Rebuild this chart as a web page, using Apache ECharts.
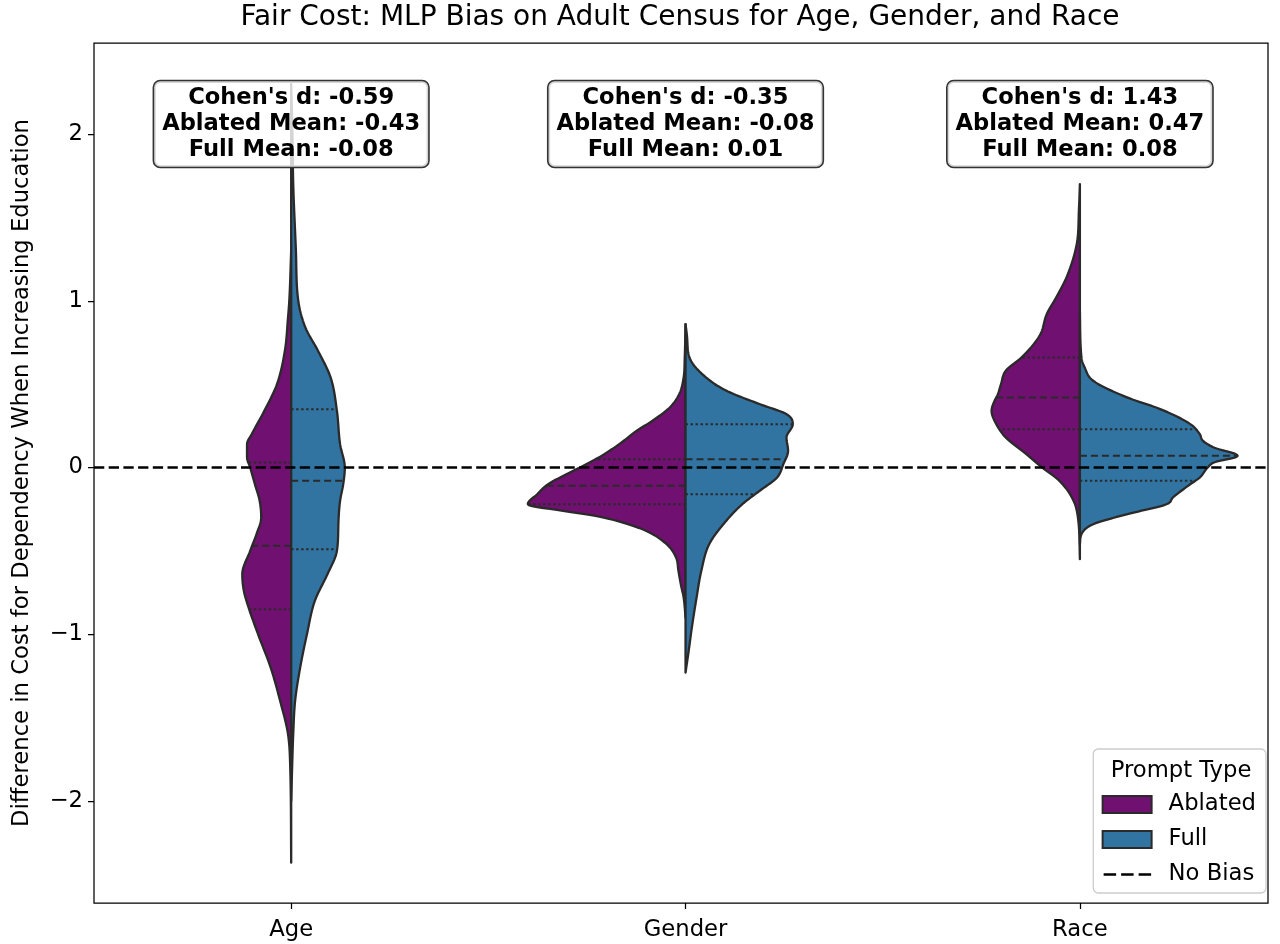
<!DOCTYPE html>
<html>
<head>
<meta charset="utf-8">
<script src="https://cdn.jsdelivr.net/npm/echarts@6/dist/echarts.min.js"></script>
<style>
html,body{margin:0;padding:0;background:#fff;}
#chart{width:1280px;height:944px;}
</style>
</head>
<body>
<div id="chart"></div>
<script>
// ---------------- data ----------------
const categories = ['Age', 'Gender', 'Race'];
const categoryPositions = [0, 1, 2];
const yTicks = [-2, -1, 0, 1, 2];

// violin half profiles: [value, relative density (1 = widest half)]
const ageAblated = [[1.30,0],[1.00,0.012],[0.90,0.02],[0.70,0.04],[0.50,0.09],[0.34,0.17],[0.20,0.25],[0.14,0.28],[0.06,0.28],[0.00,0.26],[-0.10,0.23],[-0.20,0.20],[-0.30,0.19],[-0.40,0.22],[-0.50,0.26],[-0.64,0.31],[-0.74,0.30],[-0.84,0.27],[-1.00,0.21],[-1.20,0.13],[-1.40,0.07],[-1.60,0.02],[-1.80,0.006],[-2.37,0]];
const ageFull = [[2.30,0],[2.00,0.008],[1.70,0.013],[1.30,0.03],[1.00,0.045],[0.84,0.09],[0.70,0.17],[0.54,0.25],[0.34,0.29],[0.14,0.31],[0.00,0.34],[-0.10,0.33],[-0.20,0.31],[-0.32,0.30],[-0.50,0.29],[-0.64,0.23],[-0.80,0.15],[-1.00,0.10],[-1.20,0.057],[-1.40,0.025],[-1.60,0.013],[-1.80,0.006],[-2.00,0]];
const genderAblated = [[0.86,0],[0.66,0.005],[0.54,0.012],[0.44,0.04],[0.36,0.10],[0.28,0.21],[0.22,0.31],[0.14,0.42],[0.06,0.55],[0.00,0.67],[-0.10,0.87],[-0.16,0.94],[-0.22,1.0],[-0.26,0.78],[-0.29,0.57],[-0.33,0.40],[-0.38,0.25],[-0.46,0.12],[-0.54,0.06],[-0.62,0.045],[-0.70,0.03],[-0.78,0.012],[-0.90,0]];
const genderFull = [[0.86,0],[0.78,0.01],[0.66,0.025],[0.54,0.13],[0.46,0.26],[0.38,0.47],[0.32,0.64],[0.26,0.68],[0.18,0.64],[0.10,0.65],[0.02,0.62],[-0.06,0.58],[-0.14,0.47],[-0.22,0.36],[-0.34,0.24],[-0.46,0.15],[-0.62,0.10],[-0.78,0.07],[-0.96,0.04],[-1.10,0.02],[-1.23,0]];
const raceAblated = [[1.70,0],[1.55,0.006],[1.34,0.02],[1.14,0.085],[1.02,0.15],[0.92,0.21],[0.80,0.25],[0.72,0.31],[0.66,0.37],[0.58,0.47],[0.50,0.50],[0.44,0.52],[0.38,0.55],[0.34,0.56],[0.26,0.53],[0.18,0.47],[0.08,0.34],[0.00,0.24],[-0.08,0.13],[-0.20,0.04],[-0.32,0.01],[-0.55,0]];
const raceFull = [[0.94,0],[0.66,0.01],[0.60,0.03],[0.52,0.085],[0.42,0.30],[0.35,0.51],[0.26,0.70],[0.20,0.76],[0.16,0.78],[0.12,0.85],[0.07,1.0],[0.03,0.85],[0.00,0.81],[-0.06,0.76],[-0.10,0.70],[-0.18,0.59],[-0.22,0.55],[-0.28,0.30],[-0.34,0.085],[-0.40,0.01],[-0.46,0]];

// quartiles [q1, median, q3]
const ablatedQuartiles = [[-0.85,-0.47,0.03],[-0.22,-0.11,0.05],[0.23,0.42,0.66]];
const fullQuartiles = [[-0.49,-0.08,0.35],[-0.16,0.05,0.26],[-0.08,0.07,0.23]];

// annotation statistics
const cohensD = [-0.59, -0.35, 1.43];
const ablatedMeans = [-0.43, -0.08, 0.47];
const fullMeans = [-0.08, 0.01, 0.08];
const noBiasLevel = 0;

// ---------------- styling ----------------
const FONT = '"DejaVu Sans", "Liberation Sans", sans-serif';
const FS = 22.7;
const colors = { Ablated: '#701070', Full: '#3274a1' };
const edge = '#2a2a2a';
const Y_MIN = -2.612, Y_MAX = 2.546;
const X_MIN = -0.5, X_MAX = 2.477;
const ANNOT_Y = 2.06;

const ablatedShapes = [ageAblated, genderAblated, raceAblated];
const fullShapes = [ageFull, genderFull, raceFull];

// monotone cubic interpolant used only to draw a smooth outline through the read points
function monotone(profile) {
  const pts = profile.slice().sort((a, b) => a[0] - b[0]);
  const xs = pts.map(p => p[0]), ys = pts.map(p => p[1]);
  const n = xs.length;
  const d = [], m = new Array(n);
  for (let k = 0; k < n - 1; k++) d.push((ys[k + 1] - ys[k]) / (xs[k + 1] - xs[k]));
  m[0] = d[0]; m[n - 1] = d[n - 2];
  for (let k = 1; k < n - 1; k++) m[k] = (d[k - 1] * d[k] <= 0) ? 0 : (d[k - 1] + d[k]) / 2;
  for (let k = 0; k < n - 1; k++) {
    if (d[k] === 0) { m[k] = 0; m[k + 1] = 0; continue; }
    const a = m[k] / d[k], b = m[k + 1] / d[k], s = a * a + b * b;
    if (s > 9) { const t = 3 / Math.sqrt(s); m[k] = t * a * d[k]; m[k + 1] = t * b * d[k]; }
  }
  return function (x) {
    if (x <= xs[0]) return ys[0];
    if (x >= xs[n - 1]) return ys[n - 1];
    let k = 0;
    while (k < n - 2 && x > xs[k + 1]) k++;
    const h = xs[k + 1] - xs[k], t = (x - xs[k]) / h;
    const t2 = t * t, t3 = t2 * t;
    return (2 * t3 - 3 * t2 + 1) * ys[k] + (t3 - 2 * t2 + t) * h * m[k] + (-2 * t3 + 3 * t2) * ys[k + 1] + (t3 - t2) * h * m[k + 1];
  };
}

function violinRenderer(shapes, quarts, color, side) {
  const fns = shapes.map(monotone);
  return function (params, api) {
    const i = params.dataIndex;
    const pos = categoryPositions[i];
    const prof = shapes[i];
    const f = fns[i];
    const cx = api.coord([pos, 0])[0];
    const half = api.size([1, 0])[0] * 0.4;
    const vTop = prof[0][0], vBot = prof[prof.length - 1][0];
    const N = 300;
    const pts = [];
    for (let k = 0; k <= N; k++) {
      const v = vTop + (vBot - vTop) * k / N;
      const w = Math.max(0, f(v));
      pts.push([cx + side * w * half, api.coord([pos, v])[1]]);
    }
    const children = [{
      type: 'polygon',
      shape: { points: pts },
      style: { fill: color, stroke: edge, lineWidth: 2.3, lineJoin: 'round' }
    }];
    quarts[i].forEach((q, j) => {
      const y = api.coord([pos, q])[1];
      const w = Math.max(0, f(q)) * half;
      children.push({
        type: 'line',
        shape: { x1: cx, y1: y, x2: cx + side * w, y2: y },
        style: { stroke: edge, lineWidth: 2, lineDash: j === 1 ? [7, 4] : [2.4, 2.6] }
      });
    });
    return { type: 'group', children: children };
  };
}

function annotRenderer(params, api) {
  const i = params.dataIndex;
  const p = api.coord([categoryPositions[i], ANNOT_Y]);
  const txt = "Cohen's d: " + cohensD[i].toFixed(2) + "\nAblated Mean: " + ablatedMeans[i].toFixed(2) + "\nFull Mean: " + fullMeans[i].toFixed(2);
  return {
    type: 'text',
    x: p[0], y: p[1],
    style: {
      text: txt,
      fill: '#000',
      font: 'bold 22.6px ' + FONT,
      align: 'center',
      verticalAlign: 'middle',
      lineHeight: 25.8,
      backgroundColor: 'rgba(255,255,255,0.8)',
      borderColor: '#333333',
      borderWidth: 1.6,
      borderRadius: 6,
      padding: [5, 8, 3, 8]
    }
  };
}

const chart = echarts.init(document.getElementById('chart'), null, { renderer: 'canvas' });
const option = {
  animation: false,
  backgroundColor: '#fff',
  grid: { left: 94, right: 12, top: 43, bottom: 41, show: true, borderColor: '#000', borderWidth: 1.25, backgroundColor: 'transparent' },
  xAxis: {
    type: 'value',
    min: X_MIN, max: X_MAX,
    axisLine: { show: false, onZero: false },
    axisTick: { show: true, length: 6, lineStyle: { color: '#000', width: 1.25 }, customValues: categoryPositions },
    axisLabel: {
      color: '#000', fontFamily: FONT, fontSize: FS, margin: 16,
      customValues: categoryPositions,
      formatter: v => categories[categoryPositions.indexOf(Math.round(v))] || ''
    },
    splitLine: { show: false }
  },
  yAxis: {
    type: 'value',
    min: Y_MIN, max: Y_MAX,
    axisLine: { show: false, onZero: false },
    axisTick: { show: true, length: 6, lineStyle: { color: '#000', width: 1.25 }, customValues: yTicks },
    axisLabel: {
      color: '#000', fontFamily: FONT, fontSize: FS, margin: 11,
      customValues: yTicks,
      formatter: v => (v < 0 ? '\u2212' + Math.abs(v) : String(v))
    },
    splitLine: { show: false }
  },
  legend: {
    orient: 'vertical',
    right: 14, bottom: 51,
    padding: [44, 10, 7, 8],
    itemWidth: 49, itemHeight: 17, itemGap: 12,
    align: 'left',
    backgroundColor: 'rgba(255,255,255,0.8)',
    borderColor: '#cccccc', borderWidth: 1.3, borderRadius: 5,
    textStyle: { fontFamily: FONT, fontSize: FS, color: '#000', padding: [0, 0, 0, 12] },
    data: [
      { name: 'Ablated', icon: 'rect', itemStyle: { color: colors.Ablated, borderColor: edge, borderWidth: 2 } },
      { name: 'Full', icon: 'rect', itemStyle: { color: colors.Full, borderColor: edge, borderWidth: 2 } },
      { name: 'No Bias', itemStyle: { color: 'rgba(0,0,0,0)', borderWidth: 0, opacity: 0 }, lineStyle: { color: '#000', width: 2.7, type: [12.5, 5], dashOffset: -1 } }
    ]
  },
  graphic: [
    {
      type: 'text', x: 680, y: 18, z: 100,
      style: { text: 'Fair Cost: MLP Bias on Adult Census for Age, Gender, and Race', font: '28px ' + FONT, fill: '#000', align: 'center', verticalAlign: 'middle' }
    },
    {
      type: 'text', x: 22, y: 473, rotation: Math.PI / 2, z: 100,
      style: { text: 'Difference in Cost for Dependency When Increasing Education', font: FS + 'px ' + FONT, fill: '#000', align: 'center', verticalAlign: 'middle' }
    },
    {
      type: 'text', x: 1181, y: 771, z: 100,
      style: { text: 'Prompt Type', font: FS + 'px ' + FONT, fill: '#000', align: 'center', verticalAlign: 'middle' }
    }
  ],
  series: [
    {
      name: 'Ablated', type: 'custom', z: 2,
      renderItem: violinRenderer(ablatedShapes, ablatedQuartiles, colors.Ablated, -1),
      itemStyle: { color: colors.Ablated },
      encode: { x: 0, y: 1 },
      data: categoryPositions.map((p, i) => [p, ablatedQuartiles[i][1]]),
      clip: false
    },
    {
      name: 'Full', type: 'custom', z: 2,
      renderItem: violinRenderer(fullShapes, fullQuartiles, colors.Full, 1),
      itemStyle: { color: colors.Full },
      encode: { x: 0, y: 1 },
      data: categoryPositions.map((p, i) => [p, fullQuartiles[i][1]]),
      clip: false
    },
    {
      name: 'No Bias', type: 'line', z: 5,
      symbol: 'none',
      data: [],
      lineStyle: { color: '#000', width: 2.7, type: [10.3, 4.4] },
      itemStyle: { color: '#000' },
      markLine: {
        silent: true, symbol: ['none', 'none'], label: { show: false },
        lineStyle: { color: '#000', width: 2.7, type: [10.3, 4.4] },
        data: [{ yAxis: noBiasLevel }]
      }
    },
    {
      name: 'stats', type: 'custom', z: 10,
      renderItem: annotRenderer,
      encode: { x: 0, y: 1 },
      data: categoryPositions.map((p, i) => [p, ablatedMeans[i]]),
      clip: false
    }
  ]
};
chart.setOption(option);
</script>
</body>
</html>
